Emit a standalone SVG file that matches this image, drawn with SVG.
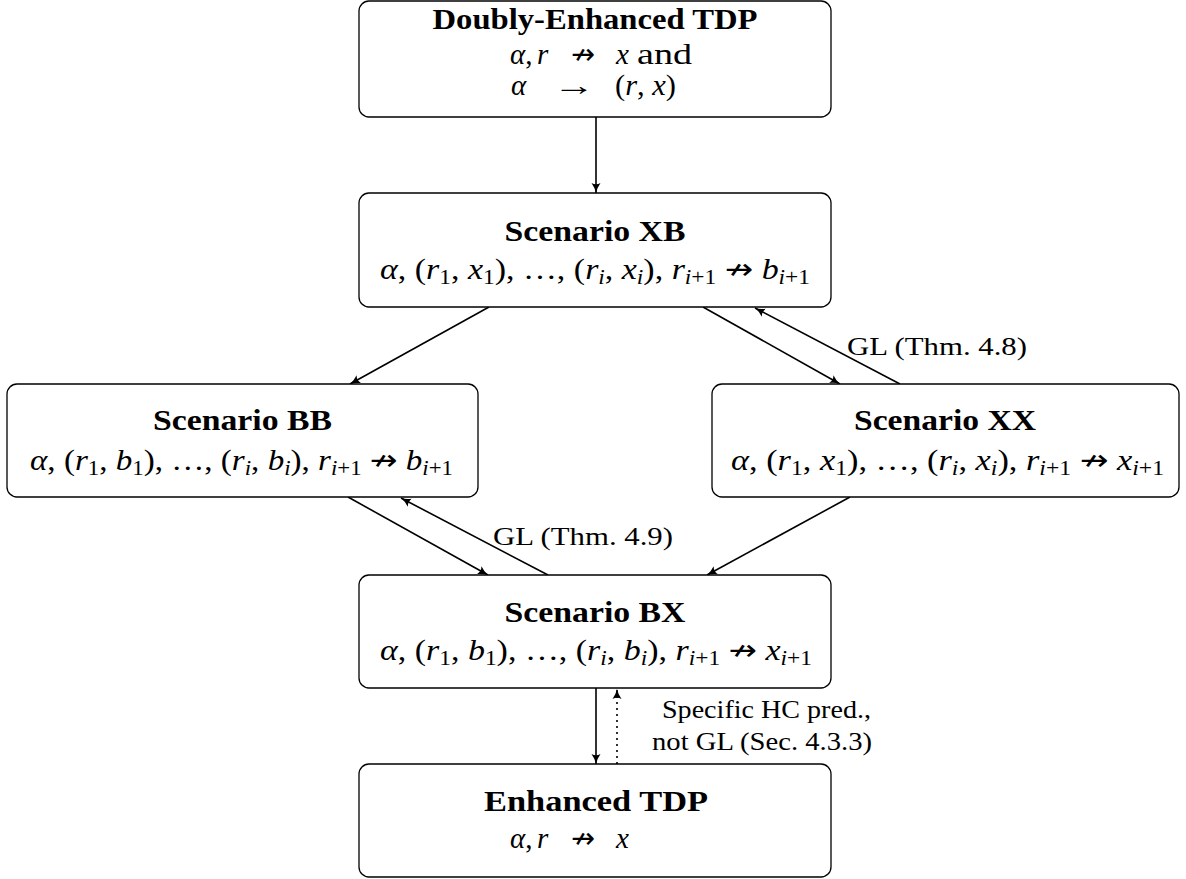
<svg xmlns="http://www.w3.org/2000/svg" width="1186" height="879" viewBox="0 0 1186 879">
<style>
.box{fill:#fff;stroke:#000;stroke-width:1.3}
.t{font-family:"Liberation Serif",serif;font-size:29px;font-weight:bold;text-anchor:middle;fill:#000}
.m{font-family:"Liberation Serif",serif;font-size:29px;fill:#000}
.v{font-style:italic}
.s{font-size:20px}
.na{font-family:"DejaVu Sans",sans-serif;font-style:normal}
.lbl{font-family:"Liberation Serif",serif;font-size:26px;fill:#000}
.e{stroke:#000;stroke-width:1.6;fill:none;marker-end:url(#ah)}
.d{stroke:#000;stroke-width:1.6;fill:none;stroke-dasharray:2 4;marker-end:url(#ah)}
</style>
<defs>
<marker id="ah" markerWidth="12" markerHeight="10" refX="10" refY="5" orient="auto" markerUnits="userSpaceOnUse">
<path d="M0,0.5 Q5,4 10,5 Q5,6 0,9.5 Q2.5,5 0,0.5z" fill="#000"/>
</marker>
</defs>
<rect width="1186" height="879" fill="#fff"/>
<g id="connectors">
<line class="e" x1="596" y1="117" x2="596" y2="193"/>
<line class="e" x1="489" y1="307" x2="350" y2="384"/>
<line class="e" x1="703" y1="307" x2="840" y2="384"/>
<line class="e" x1="900" y1="384" x2="755" y2="308"/>
<line class="e" x1="348" y1="497" x2="488" y2="575"/>
<line class="e" x1="548" y1="575" x2="401" y2="498"/>
<line class="e" x1="850" y1="497" x2="707" y2="575"/>
<line class="e" x1="596" y1="688" x2="596" y2="764"/>
<line class="d" x1="617" y1="764" x2="617" y2="689"/>
<text class="lbl" x="847" y="355" textLength="180" lengthAdjust="spacingAndGlyphs">GL (Thm.  4.8)</text>
<text class="lbl" x="493" y="545" textLength="180" lengthAdjust="spacingAndGlyphs">GL (Thm.  4.9)</text>
<text class="lbl" x="662" y="718" textLength="209" lengthAdjust="spacingAndGlyphs">Specific HC pred.,</text>
<text class="lbl" x="652" y="750" textLength="220" lengthAdjust="spacingAndGlyphs">not GL (Sec.  4.3.3)</text>
</g>
<g id="doubly-enhanced-tdp">
<rect class="box" x="359" y="1" width="472" height="116" rx="10"/>
<text class="t" x="595" y="29" textLength="325" lengthAdjust="spacingAndGlyphs">Doubly-Enhanced TDP</text>
<text class="m v" x="510" y="64">α<tspan font-style="normal">,</tspan></text>
<text class="m v" x="537" y="64">r</text>
<text class="m na" x="571" y="64" textLength="24" lengthAdjust="spacingAndGlyphs">↛</text>
<text class="m v" x="616" y="64">x</text>
<text class="m" x="637" y="64" textLength="55" lengthAdjust="spacingAndGlyphs">and</text>
<text class="m v" x="511" y="95">α</text>
<text class="m" x="553" y="95" textLength="42" lengthAdjust="spacingAndGlyphs">→</text>
<text class="m" x="615" y="95" textLength="61" lengthAdjust="spacingAndGlyphs">(<tspan class="v">r</tspan>, <tspan class="v">x</tspan>)</text>
</g>
<g id="scenario-xb">
<rect class="box" x="359" y="193" width="472" height="114" rx="10"/>
<text class="t" x="595" y="241" textLength="181" lengthAdjust="spacingAndGlyphs">Scenario XB</text>
<text class="m" x="380" y="279" textLength="430" lengthAdjust="spacingAndGlyphs"><tspan class="v">α</tspan>, (<tspan class="v">r</tspan><tspan class="s" dy="5">1</tspan><tspan dy="-5">, </tspan><tspan class="v">x</tspan><tspan class="s" dy="5">1</tspan><tspan dy="-5">), …, (</tspan><tspan class="v">r</tspan><tspan class="s v" dy="5">i</tspan><tspan dy="-5">, </tspan><tspan class="v">x</tspan><tspan class="s v" dy="5">i</tspan><tspan dy="-5">), </tspan><tspan class="v">r</tspan><tspan class="s" dy="5"><tspan class="v">i</tspan>+1</tspan><tspan dy="-5"> </tspan><tspan class="na">↛</tspan> <tspan class="v">b</tspan><tspan class="s" dy="5"><tspan class="v">i</tspan>+1</tspan></text>
</g>
<g id="scenario-bb">
<rect class="box" x="7" y="384" width="471" height="113" rx="10"/>
<text class="t" x="242.5" y="430" textLength="179" lengthAdjust="spacingAndGlyphs">Scenario BB</text>
<text class="m" x="30" y="470" textLength="423" lengthAdjust="spacingAndGlyphs"><tspan class="v">α</tspan>, (<tspan class="v">r</tspan><tspan class="s" dy="5">1</tspan><tspan dy="-5">, </tspan><tspan class="v">b</tspan><tspan class="s" dy="5">1</tspan><tspan dy="-5">), …, (</tspan><tspan class="v">r</tspan><tspan class="s v" dy="5">i</tspan><tspan dy="-5">, </tspan><tspan class="v">b</tspan><tspan class="s v" dy="5">i</tspan><tspan dy="-5">), </tspan><tspan class="v">r</tspan><tspan class="s" dy="5"><tspan class="v">i</tspan>+1</tspan><tspan dy="-5"> </tspan><tspan class="na">↛</tspan> <tspan class="v">b</tspan><tspan class="s" dy="5"><tspan class="v">i</tspan>+1</tspan></text>
</g>
<g id="scenario-xx">
<rect class="box" x="712" y="384" width="467" height="113" rx="10"/>
<text class="t" x="945" y="430" textLength="182" lengthAdjust="spacingAndGlyphs">Scenario XX</text>
<text class="m" x="731" y="470" textLength="433" lengthAdjust="spacingAndGlyphs"><tspan class="v">α</tspan>, (<tspan class="v">r</tspan><tspan class="s" dy="5">1</tspan><tspan dy="-5">, </tspan><tspan class="v">x</tspan><tspan class="s" dy="5">1</tspan><tspan dy="-5">), …, (</tspan><tspan class="v">r</tspan><tspan class="s v" dy="5">i</tspan><tspan dy="-5">, </tspan><tspan class="v">x</tspan><tspan class="s v" dy="5">i</tspan><tspan dy="-5">), </tspan><tspan class="v">r</tspan><tspan class="s" dy="5"><tspan class="v">i</tspan>+1</tspan><tspan dy="-5"> </tspan><tspan class="na">↛</tspan> <tspan class="v">x</tspan><tspan class="s" dy="5"><tspan class="v">i</tspan>+1</tspan></text>
</g>
<g id="scenario-bx">
<rect class="box" x="359" y="575" width="472" height="113" rx="10"/>
<text class="t" x="595" y="622" textLength="181" lengthAdjust="spacingAndGlyphs">Scenario BX</text>
<text class="m" x="380" y="660" textLength="432" lengthAdjust="spacingAndGlyphs"><tspan class="v">α</tspan>, (<tspan class="v">r</tspan><tspan class="s" dy="5">1</tspan><tspan dy="-5">, </tspan><tspan class="v">b</tspan><tspan class="s" dy="5">1</tspan><tspan dy="-5">), …, (</tspan><tspan class="v">r</tspan><tspan class="s v" dy="5">i</tspan><tspan dy="-5">, </tspan><tspan class="v">b</tspan><tspan class="s v" dy="5">i</tspan><tspan dy="-5">), </tspan><tspan class="v">r</tspan><tspan class="s" dy="5"><tspan class="v">i</tspan>+1</tspan><tspan dy="-5"> </tspan><tspan class="na">↛</tspan> <tspan class="v">x</tspan><tspan class="s" dy="5"><tspan class="v">i</tspan>+1</tspan></text>
</g>
<g id="enhanced-tdp">
<rect class="box" x="359" y="764" width="472" height="113" rx="10"/>
<text class="t" x="596" y="811" textLength="224" lengthAdjust="spacingAndGlyphs">Enhanced TDP</text>
<text class="m v" x="510" y="848">α<tspan font-style="normal">,</tspan></text>
<text class="m v" x="537" y="848">r</text>
<text class="m na" x="571" y="848" textLength="24" lengthAdjust="spacingAndGlyphs">↛</text>
<text class="m v" x="616" y="848">x</text>
</g>
</svg>
